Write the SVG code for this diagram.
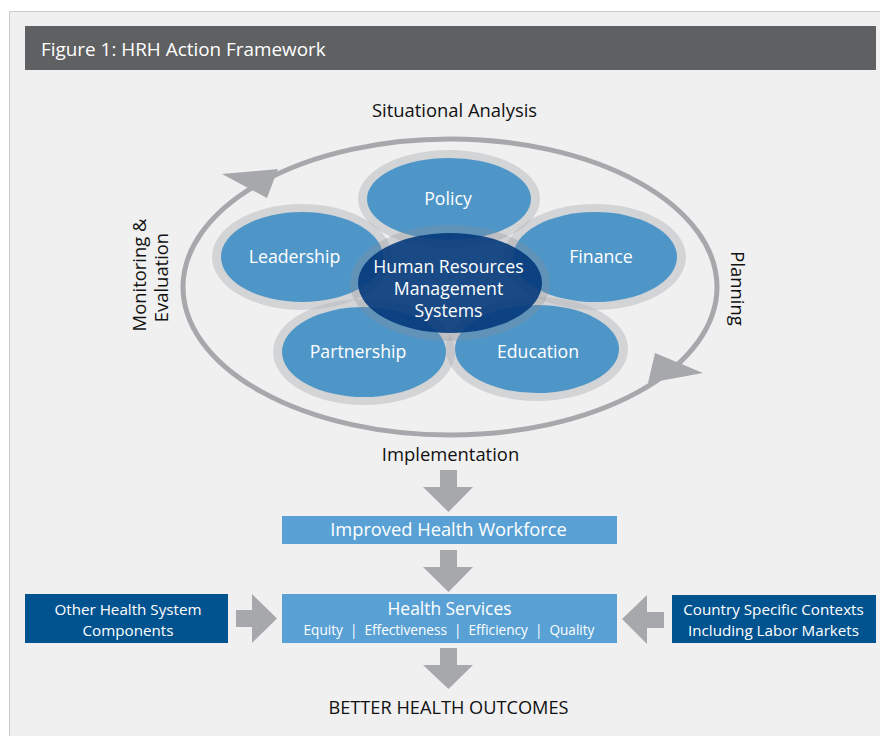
<svg xmlns="http://www.w3.org/2000/svg" width="880" height="736" viewBox="0 0 880 736">
  <defs>
    <style>
      text { font-family: "Open Sans", "Noto Sans", "Liberation Sans", sans-serif; }
      .w { fill: #ffffff; }
      .k { fill: #111111; }
      .ring { fill: #b9babd; fill-opacity: 0.52; }
      .petal { fill: #4f96c8; }
      .arrow { fill: #a7a8ab; }
      .lb { fill: #59a1d5; }
      .db { fill: #01538f; }
      .pt { font-size: 17.7px; }
      .lab { font-size: 18.4px; }
      .bx { font-size: 15.2px; }
    </style>
  </defs>
  <rect x="0" y="0" width="880" height="736" fill="#ffffff"/>
  <rect x="9.5" y="11.5" width="875" height="730" fill="#f0f0f0" stroke="#cccccc" stroke-width="1"/>

  <g id="title">
    <rect x="25" y="26" width="851" height="44" fill="#5f6062"/>
    <text x="41" y="56" font-size="18.9" class="w">Figure 1: HRH Action Framework</text>
  </g>

  <g id="connectors">
    <ellipse cx="450" cy="287" rx="267" ry="148" fill="none" stroke="#a7a8ab" stroke-width="5"/>
    <polygon class="arrow" points="222,174 278,169 267,198"/>
    <polygon class="arrow" points="655,353 703,373 648,383"/>
    <!-- down arrows -->
    <polygon class="arrow" points="440,470 457,470 457,487 473,487 448.5,512 423,487 440,487"/>
    <polygon class="arrow" points="440,550 457,550 457,567 473,567 448.5,592 423,567 440,567"/>
    <polygon class="arrow" points="440,648 457,648 457,665 473,665 448.5,689 423,665 440,665"/>
    <!-- side arrows -->
    <polygon class="arrow" points="236,610 252,610 252,594 277,618.5 252,643 252,627 236,627"/>
    <polygon class="arrow" points="664,612 647,612 647,595 622,619 647,644 647,628 664,628"/>
  </g>

  <g id="labels">
    <text x="454.5" y="117" text-anchor="middle" class="k lab">Situational Analysis</text>
    <text x="450.5" y="461" text-anchor="middle" class="k lab">Implementation</text>
    <text transform="translate(731,288.5) rotate(90)" text-anchor="middle" class="k lab">Planning</text>
    <text transform="translate(146,275) rotate(-90)" text-anchor="middle" class="k lab">Monitoring &amp;</text>
    <text transform="translate(168,277.5) rotate(-90)" text-anchor="middle" class="k lab">Evaluation</text>
  </g>

  <g id="leadership">
    <ellipse class="ring" cx="302" cy="257" rx="90" ry="53"/>
    <ellipse class="petal" cx="302" cy="257" rx="81" ry="45"/>
    <text x="294.5" y="263" text-anchor="middle" class="w pt">Leadership</text>
  </g>
  <g id="policy">
    <ellipse class="ring" cx="449" cy="199" rx="91" ry="49"/>
    <ellipse class="petal" cx="449" cy="199" rx="82" ry="41"/>
    <text x="448" y="205" text-anchor="middle" class="w pt">Policy</text>
  </g>
  <g id="finance">
    <ellipse class="ring" cx="595" cy="257" rx="91" ry="53"/>
    <ellipse class="petal" cx="595" cy="257" rx="82" ry="45"/>
    <text x="601" y="263" text-anchor="middle" class="w pt">Finance</text>
  </g>
  <g id="partnership">
    <ellipse class="ring" cx="364" cy="352" rx="91" ry="53"/>
    <ellipse class="petal" cx="364" cy="352" rx="82" ry="45"/>
    <text x="358" y="358" text-anchor="middle" class="w pt">Partnership</text>
  </g>
  <g id="education">
    <ellipse class="ring" cx="537" cy="349" rx="91" ry="52"/>
    <ellipse class="petal" cx="537" cy="349" rx="82" ry="44"/>
    <text x="538" y="358" text-anchor="middle" class="w pt">Education</text>
  </g>
  <g id="hrm">
    <ellipse cx="450" cy="283" rx="100" ry="58" fill="#8a8f98" fill-opacity="0.3"/>
    <ellipse cx="450" cy="283" rx="92" ry="50" fill="#00377a" fill-opacity="0.88"/>
    <text x="448.5" y="273" text-anchor="middle" class="w pt">Human Resources</text>
    <text x="448.5" y="295" text-anchor="middle" class="w pt">Management</text>
    <text x="448.5" y="317" text-anchor="middle" class="w pt">Systems</text>
  </g>

  <g id="workforce">
    <rect class="lb" x="282" y="516" width="335" height="28"/>
    <text x="448.5" y="536" font-size="18.3" text-anchor="middle" class="w">Improved Health Workforce</text>
  </g>
  <g id="services">
    <rect class="lb" x="282" y="594" width="335" height="49"/>
    <text x="449.5" y="614.5" font-size="17.4" text-anchor="middle" class="w">Health Services</text>
    <text x="449" y="634.5" font-size="13.6" text-anchor="middle" class="w" xml:space="preserve">Equity  |  Effectiveness  |  Efficiency  |  Quality</text>
  </g>
  <g id="other">
    <rect class="db" x="25" y="594" width="203" height="49"/>
    <text x="128" y="615" text-anchor="middle" class="w bx">Other Health System</text>
    <text x="128" y="636" text-anchor="middle" class="w bx">Components</text>
  </g>
  <g id="country">
    <rect class="db" x="672" y="595" width="204" height="48"/>
    <text x="773.5" y="615" text-anchor="middle" class="w bx">Country Specific Contexts</text>
    <text x="773.5" y="636" text-anchor="middle" class="w bx">Including Labor Markets</text>
  </g>
  <g id="outcomes">
    <text x="448.5" y="714" font-size="18.2" text-anchor="middle" class="k">BETTER HEALTH OUTCOMES</text>
  </g>
</svg>
